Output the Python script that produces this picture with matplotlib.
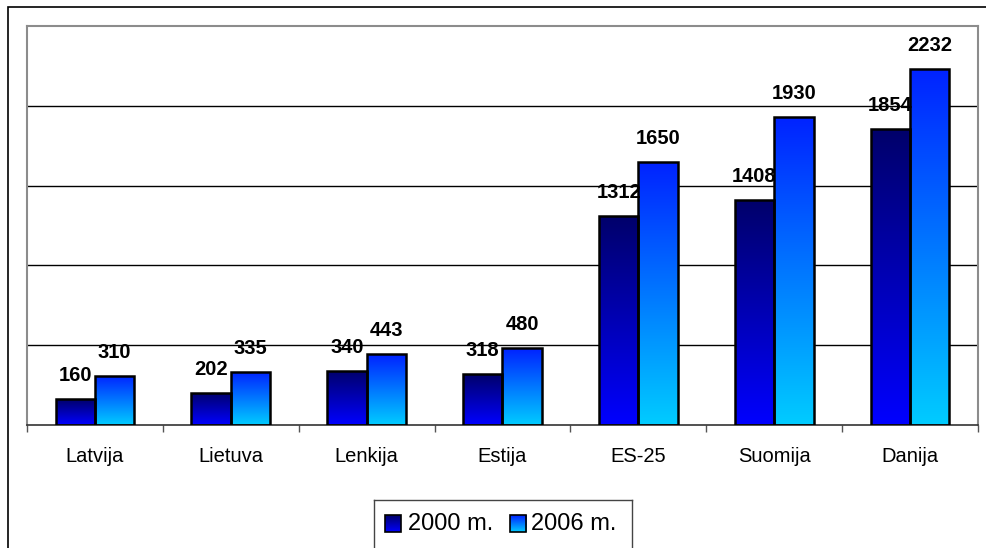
import matplotlib
matplotlib.use('Agg')
import matplotlib.pyplot as plt
import numpy as np
from matplotlib.colors import LinearSegmentedColormap
from matplotlib.patches import Rectangle

salys = ['Latvija', 'Lietuva', 'Lenkija', 'Estija', 'ES-25', 'Suomija', 'Danija']
v2000 = [160, 202, 340, 318, 1312, 1408, 1854]
v2006 = [310, 335, 443, 480, 1650, 1930, 2232]
serijos = ['2000 m.', '2006 m.']

# top -> bottom colours of the gradients
cmap2000 = LinearSegmentedColormap.from_list('c2000', ['#00006a', '#0000ff'])
cmap2006 = LinearSegmentedColormap.from_list('c2006', ['#0022ff', '#00ccff'])

W, H = 987, 548
fig = plt.figure(figsize=(W / 100, H / 100), dpi=100)

# outer chart frame (left and top visible)
fig.patches.append(Rectangle((8 / W, -0.1), 1.2, 1 - 7 / H + 0.1, transform=fig.transFigure,
                             fill=False, edgecolor='black', linewidth=1.2, zorder=0))

ax = fig.add_axes([27 / W, 1 - 425 / H, (978 - 27) / W, (425 - 26) / H])
ax.set_xlim(-0.5, len(salys) - 0.5)
ax.set_ylim(0, 2500)

for y in range(500, 2500, 500):
    ax.axhline(y, color='black', linewidth=1.0, zorder=1)

x = np.arange(len(salys))
bw = 0.29
grad = np.linspace(0, 1, 256).reshape(-1, 1)


def draw_bars(xs, vals, cmap):
    for xi, v in zip(xs, vals):
        im = ax.imshow(grad, cmap=cmap, aspect='auto', origin='upper',
                       extent=(xi - bw / 2, xi + bw / 2, 0, v), zorder=2)
        r = Rectangle((xi - bw / 2, 0), bw, v, fill=False, edgecolor='black',
                      linewidth=1.8, zorder=3)
        ax.add_patch(r)
        im.set_clip_path(r)
        ax.annotate(str(v), (xi, v), xytext=(0, 18), textcoords='offset pixels',
                    ha='center', va='baseline', fontsize=14.5, fontweight='bold',
                    family='Liberation Sans', zorder=4)


draw_bars(x - bw / 2, v2000, cmap2000)
draw_bars(x + bw / 2, v2006, cmap2006)

ax.set_xlim(-0.5, len(salys) - 0.5)
ax.set_ylim(0, 2500)
ax.set_yticks([])
ax.set_xticks(x)
ax.set_xticklabels(salys, fontsize=14.5, family='Liberation Sans')
ax.tick_params(axis='x', which='major', length=0, pad=16)
ax.set_xticks(np.arange(-0.5, len(salys), 1), minor=True)
ax.tick_params(axis='x', which='minor', length=5, width=1, direction='out', color='#555555')
for s in ['left', 'top', 'right']:
    ax.spines[s].set_color('#8c8c8c')
    ax.spines[s].set_linewidth(1.5)
ax.spines['bottom'].set_color('#333333')
ax.spines['bottom'].set_linewidth(1.2)

# legend with gradient swatches
lax = fig.add_axes([374 / W, 1 - 552 / H, (632 - 374) / W, (552 - 500) / H])
lax.set_xlim(374, 632)
lax.set_ylim(552, 500)
lax.set_xticks([])
lax.set_yticks([])
for s in lax.spines.values():
    s.set_color('#444444')
    s.set_linewidth(1.0)
for x0, tx, cm, lab in [(385, 408, cmap2000, serijos[0]), (510, 531, cmap2006, serijos[1])]:
    lax.imshow(grad, cmap=cm, aspect='auto', extent=(x0, x0 + 16, 532, 515), zorder=2)
    lax.add_patch(Rectangle((x0, 515), 16, 17, fill=False, edgecolor='black', linewidth=1.2, zorder=3))
    lax.text(tx, 524, lab, fontsize=17, va='center', ha='left', family='Liberation Sans')
lax.set_xlim(374, 632)
lax.set_ylim(552, 500)

fig.savefig('out.png', dpi=100)
